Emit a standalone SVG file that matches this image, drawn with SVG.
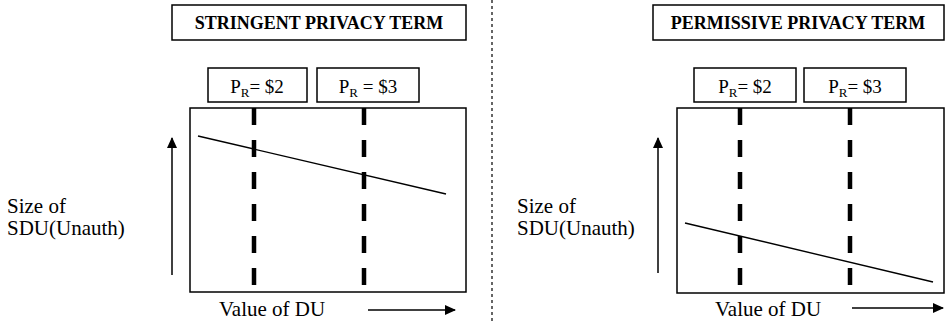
<svg xmlns="http://www.w3.org/2000/svg" width="952" height="323" viewBox="0 0 952 323">
<style>
.box{fill:#fff;stroke:#000;stroke-width:1.5}
.title{font-family:"Liberation Serif",serif;font-weight:bold;font-size:18px;text-anchor:middle}
.pr{font-family:"Liberation Serif",serif;font-size:19px;text-anchor:middle}
.lbl{font-family:"Liberation Serif",serif;font-size:21px}
.dash{stroke:#000;stroke-width:4.5;stroke-dasharray:17 15;fill:none}
.trend{stroke:#000;stroke-width:1.4;fill:none}
.axis{stroke:#000;stroke-width:1.5;fill:none}
.sep{stroke:#000;stroke-width:1.2;stroke-dasharray:3 3;fill:none}
</style>
<defs>
<marker id="ah" markerWidth="11" markerHeight="10" refX="10" refY="5" orient="auto" markerUnits="userSpaceOnUse">
<path d="M0,0 L11,5 L0,10 z" fill="#000"/>
</marker>
</defs>
<g id="left-panel">
<g id="left-title"><rect class="box" x="172" y="5" width="294" height="35"/><text class="title" x="319" y="29">STRINGENT PRIVACY TERM</text></g>
<g id="left-pr2"><rect class="box" x="208" y="68" width="99" height="34"/><text class="pr" x="257" y="93">P<tspan font-size="13" dy="4">R</tspan><tspan dy="-4">= $2</tspan></text></g>
<g id="left-pr3"><rect class="box" x="317" y="68" width="102" height="34"/><text class="pr" x="368" y="93">P<tspan font-size="13" dy="4">R</tspan><tspan dy="-4"> = $3</tspan></text></g>
<g id="left-chart"><rect class="box" x="190" y="108" width="276" height="184"/></g>
<g id="left-ylabel"><text class="lbl" x="7" y="213">Size of</text><text class="lbl" x="7" y="235">SDU(Unauth)</text></g>
<g id="left-xlabel"><text class="lbl" x="219" y="316">Value of DU</text></g>
</g>
<g id="right-panel">
<g id="right-title"><rect class="box" x="653" y="5" width="291" height="35"/><text class="title" x="798" y="29">PERMISSIVE PRIVACY TERM</text></g>
<g id="right-pr2"><rect class="box" x="694" y="68" width="102" height="34"/><text class="pr" x="745" y="93">P<tspan font-size="13" dy="4">R</tspan><tspan dy="-4">= $2</tspan></text></g>
<g id="right-pr3"><rect class="box" x="804" y="68" width="102" height="34"/><text class="pr" x="855" y="93">P<tspan font-size="13" dy="4">R</tspan><tspan dy="-4">= $3</tspan></text></g>
<g id="right-chart"><rect class="box" x="677" y="108" width="267" height="185"/></g>
<g id="right-ylabel"><text class="lbl" x="517" y="213">Size of</text><text class="lbl" x="517" y="235">SDU(Unauth)</text></g>
<g id="right-xlabel"><text class="lbl" x="715" y="316">Value of DU</text></g>
</g>
<g id="connectors">
<line class="dash" x1="254" y1="108" x2="254" y2="292"/>
<line class="dash" x1="364" y1="108" x2="364" y2="292"/>
<line class="trend" x1="198" y1="136" x2="446" y2="194"/>
<line class="axis" x1="172" y1="275" x2="172" y2="138" marker-end="url(#ah)"/>
<line class="axis" x1="368" y1="310" x2="455" y2="310" marker-end="url(#ah)"/>
<line class="dash" x1="740" y1="108" x2="740" y2="293"/>
<line class="dash" x1="850" y1="108" x2="850" y2="293"/>
<line class="trend" x1="685" y1="223" x2="933" y2="282"/>
<line class="axis" x1="658" y1="273" x2="658" y2="138" marker-end="url(#ah)"/>
<line class="axis" x1="852" y1="308" x2="943" y2="308" marker-end="url(#ah)"/>
<line class="sep" x1="492" y1="0" x2="492" y2="323"/>
</g>
</svg>
